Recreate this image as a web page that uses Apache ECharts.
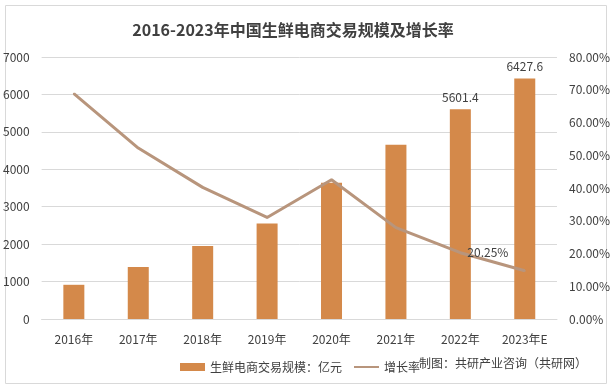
<!DOCTYPE html>
<html><head><meta charset="utf-8">
<script src="https://cdn.jsdelivr.net/npm/echarts@6/dist/echarts.min.js"></script>
<style>html,body{margin:0;padding:0;background:#fff}#c{width:613px;height:390px}</style>
</head><body><div id="c"></div>
<script>
const categories = ['2016年','2017年','2018年','2019年','2020年','2021年','2022年','2023年E'];
const scaleValues = [913.9, 1391.3, 1950.2, 2554.5, 3641.3, 4658.1, 5601.4, 6427.6];
const growthRates = [0.688, 0.522, 0.402, 0.310, 0.425, 0.279, 0.2025, 0.1475];
const barLabelIdx = [6, 7];
const lineLabelIdx = [6];

const chart = echarts.init(document.getElementById('c'));
const font = '"Microsoft YaHei","Noto Sans CJK SC",sans-serif';
chart.setOption({
  animation: false,
  textStyle: {fontFamily: font},
  title: {text: '2016-2023年中国生鲜电商交易规模及增长率', left: 288, textAlign: 'center', top: 17,
    textStyle: {fontSize: 16, fontWeight: 'bold', color: '#404040', fontFamily: font}},
  graphic: [
    {type: 'rect', shape: {x: 5.5, y: 5.5, width: 601, height: 378}, style: {fill: 'none', stroke: '#D9D9D9', lineWidth: 1}, z: -1},
    {type: 'text', left: 419, top: 357, style: {text: '制图：共研产业咨询（共研网）', fontSize: 12, fill: '#404040', fontFamily: font}}
  ],
  legend: {left: 175, top: 356, itemGap: 12, itemWidth: 25, itemHeight: 8,
    textStyle: {fontSize: 12, color: '#404040', fontFamily: font},
    data: [{name: '生鲜电商交易规模：亿元', icon: 'rect'},
      {name: '增长率', icon: 'path://M0,3 L25,3 L25,5 L0,5 Z', itemStyle: {color: '#B8957C', opacity: 1}}]},
  grid: {left: 41, right: 53, top: 57, bottom: 71},
  xAxis: {type: 'category', data: categories,
    axisLine: {lineStyle: {color: '#D9D9D9'}}, axisTick: {show: false},
    axisLabel: {color: '#404040', fontSize: 12, margin: 14}},
  yAxis: [
    {type: 'value', min: 0, max: 7000, interval: 1000,
      axisLabel: {color: '#404040', fontSize: 12, margin: 12, formatter: v => String(v)},
      splitLine: {lineStyle: {color: '#D9D9D9'}}, axisLine: {show: false}, axisTick: {show: false}},
    {type: 'value', min: 0, max: 0.8, interval: 0.1,
      axisLabel: {color: '#404040', fontSize: 12, margin: 12, formatter: v => (v*100).toFixed(2) + '%'},
      splitLine: {show: false}, axisLine: {show: false}, axisTick: {show: false}}
  ],
  series: [
    {name: '生鲜电商交易规模：亿元', type: 'bar', barWidth: 21, itemStyle: {color: '#D4894A'},
      data: scaleValues,
      label: {show: true, position: 'top', distance: 6, color: '#404040', fontSize: 12,
        formatter: p => barLabelIdx.includes(p.dataIndex) ? p.value.toFixed(1) : ''}},
    {name: '增长率', type: 'line', yAxisIndex: 1, symbol: 'circle', symbolSize: 2, showSymbol: true,
      lineStyle: {color: '#B8957C', width: 3}, itemStyle: {color: '#B8957C'},
      data: growthRates, z: 5,
      label: {show: true, position: 'right', distance: 6, color: '#404040', fontSize: 12,
        formatter: p => lineLabelIdx.includes(p.dataIndex) ? (p.value*100).toFixed(2) + '%' : ''}}
  ]
});
</script></body></html>
